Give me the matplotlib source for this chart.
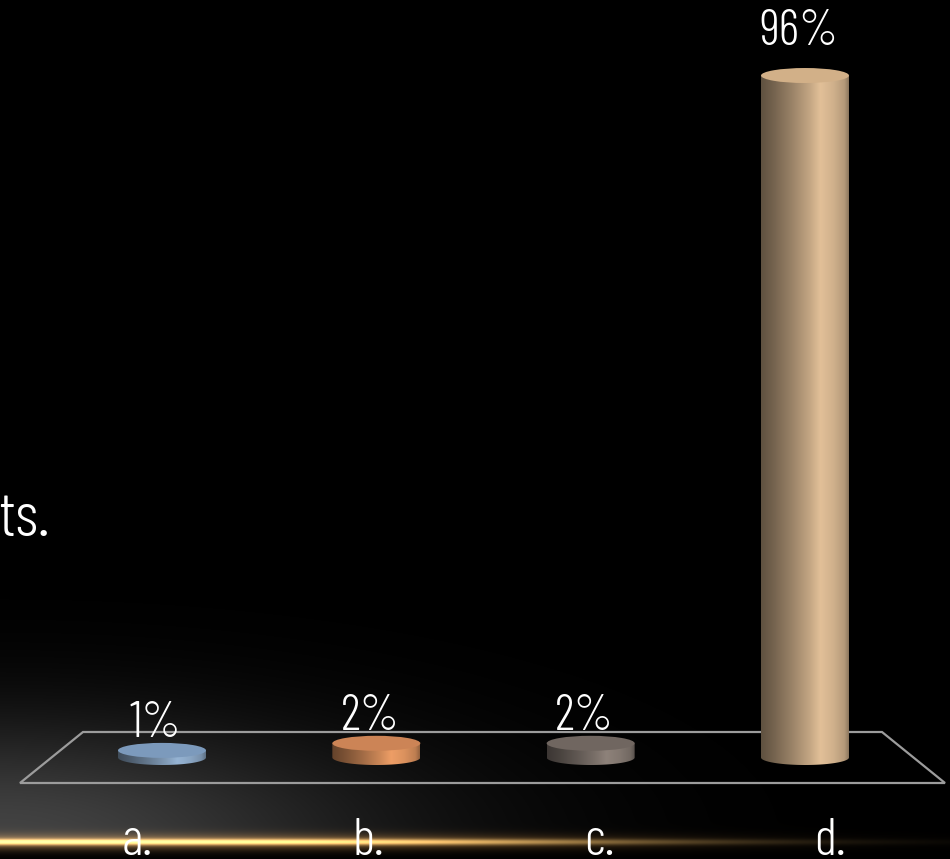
import numpy as np
import matplotlib
matplotlib.use("Agg")
import matplotlib.pyplot as plt
from matplotlib import font_manager
from matplotlib.patches import Ellipse, PathPatch, Polygon
from matplotlib.path import Path

# thin condensed face for all labels, first one that is installed
installed = {f.name for f in font_manager.fontManager.ttflist}
for face in ["Barlow Condensed", "Roboto Condensed", "IBM Plex Sans Condensed",
             "Encode Sans Condensed", "Sofia Sans Condensed", "PT Sans Narrow",
             "Archivo Narrow", "Oswald", "Roboto"]:
    if face in installed:
        break
else:
    face = "DejaVu Sans"
plt.rcParams['font.family'] = [face, 'DejaVu Sans']
plt.rcParams['font.weight'] = 300

categories = ["a.", "b.", "c.", "d."]
values = [1, 2, 2, 96]
value_labels = ["1%", "2%", "2%", "96%"]

# lit colour of each cylinder side and its flat top
side_colors = [(150, 180, 212), (238, 158, 102), (142, 130, 122), (226, 192, 152)]
top_colors = [(124, 154, 188), (204, 132, 86), (112, 102, 96), (210, 176, 136)]

W, H = 950, 859
fig = plt.figure(figsize=(W / 100, H / 100), dpi=100, facecolor="black")

# background layer in pixel units: grey haze bottom left and the gold light streak
bg = fig.add_axes([0, 0, 1, 1])
bg.set_xlim(0, W)
bg.set_ylim(H, 0)
bg.axis("off")
xx, yy = np.meshgrid(np.arange(W) + 0.5, np.arange(H) + 0.5)
haze_x = 0.26 * np.exp(-(xx / 380) ** 2)
haze = np.where(yy < 835, haze_x * np.exp(-((835 - yy) / 115) ** 2),
                haze_x * np.exp(-((yy - 835) / 12) ** 2))
fade = np.where(xx < 250, 1.0, np.exp(-((xx - 250) / 380) ** 2))
core = 0.9 * np.exp(-((yy - 842) / 3.0) ** 2) * fade
glow = 0.5 * np.exp(-((yy - 842) / 8) ** 2) * fade
img = (haze[..., None]
       + core[..., None] * np.array([0.95, 0.78, 0.46])
       + glow[..., None] * np.array([0.7, 0.46, 0.18]))
bg.imshow(np.clip(img, 0, 1), extent=(0, W, H, 0), aspect="auto", zorder=0)

# tail of the slide text running in from the left
bg.text(50, 536, "ts.", ha="right", va="baseline", fontsize=46, color="white")

# chart layer: x in category slots, y in percent
ax = fig.add_axes([0, 0, 1, 1])
ax.patch.set_alpha(0)
ax.axis("off")

px_per_pct = 7.104
px_per_slot = 214.33
first_x = 162.0
base_y = 757.5


def to_data(px, py):
    return ((px - first_x) / px_per_slot, (base_y - py) / px_per_pct)


# floor outline
floor = [to_data(20, 783), to_data(83, 732), to_data(882, 732), to_data(945, 783)]
ax.add_patch(Polygon(floor, closed=True, facecolor="none", edgecolor="#9c9c9c",
                     linewidth=1.6, zorder=1))

w = 88 / px_per_slot         # cylinder diameter
b = 7.5 / px_per_pct         # half height of the end ellipses

t = np.linspace(-1, 1, 256)
shade = np.interp(t, [-1.0, -0.7, -0.3, 0.1, 0.35, 0.65, 0.9, 1.0],
                  [0.42, 0.52, 0.68, 0.86, 1.0, 0.92, 0.8, 0.62])

for i, v in enumerate(values):
    left, right = i - w / 2, i + w / 2
    theta = np.linspace(np.pi, 2 * np.pi, 60)
    arc = np.column_stack([i + w / 2 * np.cos(theta), b * np.sin(theta)])
    verts = np.vstack([[left, v], arc, [right, v], [left, v]])
    codes = [Path.MOVETO] + [Path.LINETO] * (len(verts) - 2) + [Path.CLOSEPOLY]
    body = PathPatch(Path(verts, codes), facecolor="none", edgecolor="none", zorder=2)
    ax.add_patch(body)

    rgb = np.array(side_colors[i]) / 255.0
    grad = np.clip(shade[None, :, None] * rgb[None, None, :], 0, 1)
    im = ax.imshow(grad, extent=(left, right, -b, v), aspect="auto",
                   interpolation="bilinear", zorder=2)
    im.set_clip_path(body)

    ax.add_patch(Ellipse((i, v), w, 2 * b, facecolor=np.array(top_colors[i]) / 255.0,
                         edgecolor="none", zorder=3))

    pad = 23 if v > 50 else 6
    ax.annotate(value_labels[i], (i - 0.03, v + b), xytext=(0, pad), textcoords="offset pixels",
                ha="center", va="baseline", fontsize=36, color="white", zorder=4)

# category names along the front of the floor
label_y = (base_y - 855) / px_per_pct
for i, name in enumerate(categories):
    ax.text(1.5 + (i - 1.5) * 1.078, label_y, name, ha="center", va="baseline",
            fontsize=38, color="white", zorder=4)

ax.set_xlim(-first_x / px_per_slot, (W - first_x) / px_per_slot)
ax.set_ylim((base_y - H) / px_per_pct, base_y / px_per_pct)

fig.savefig("out.png", dpi=100, facecolor="black")
